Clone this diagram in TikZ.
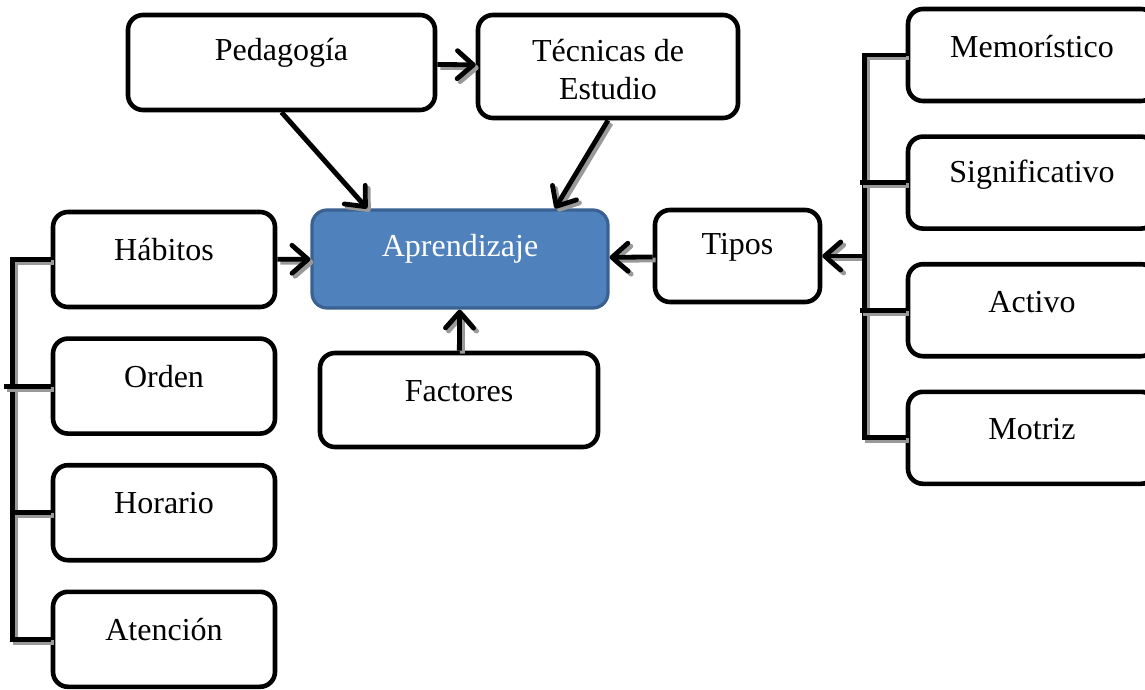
\documentclass[tikz,border=0pt]{standalone}
\usepackage{fontspec}
\setmainfont{Liberation Serif}
\usetikzlibrary{arrows.meta,positioning}
\definecolor{blueFill}{HTML}{4F81BD}
\definecolor{blueLine}{HTML}{3B6192}
\tikzset{
    box/.style={rectangle, rounded corners=7.5pt, draw, line width=2.3pt, fill=white, inner sep=0},
    mainbox/.style={box, fill=blueFill, draw=blueLine, line width=1.6pt},
    txt/.style={anchor=center, yshift=-20pt, align=center, font=\fontsize{16}{19}\selectfont},
    wire/.style={line width=2.4pt, preaction={draw=black!40, line width=2.4pt, transform canvas={shift={(1.5pt,-1.5pt)}}}},
    post/.style={wire, -{Straight Barb[length=8pt, width=14pt, round]}},
  }

\begin{document}
\begin{tikzpicture}[x=0.5pt, y=-0.5pt]
      \useasboundingbox (0,0) rectangle (1145,690);

      % centre
      \node (aprendizaje) [mainbox, minimum width=148pt, minimum height=49pt, label={[txt, text=white]north:Aprendizaje}] at (460,259) {};
      \node (pedagogia) [box, minimum width=153.5pt, minimum height=47.5pt, label={[txt]north:Pedagogía}] at (281.5,62.5) {};
      \node (tecnicas) [box, minimum width=130pt, minimum height=51.5pt, label={[txt, yshift=-8.5pt]north:Técnicas de\\Estudio}] at (608,66.5) {};
      \node (factores) [box, minimum width=139pt, minimum height=47pt, label={[txt]north:Factores}] at (459,400) {};
      \node (tipos) [box, minimum width=82.5pt, minimum height=46pt, label={[txt]north:Tipos}] at (737.5,256) {};

      % left column
      \begin{scope}[minimum width=111pt, minimum height=47.5pt, node distance=13.5pt]
        \node (habitos) [box, label={[txt]north:Hábitos}] at (164,259.5) {};
        \node (orden) [box, below=of habitos, label={[txt]north:Orden}] {};
        \node (horario) [box, below=of orden, label={[txt]north:Horario}] {};
        \node (atencion) [box, below=of horario, label={[txt]north:Atención}] {};
      \end{scope}

      % right column
      \begin{scope}[minimum width=124pt, minimum height=46pt, node distance=15.5pt]
        \node (memoristico) [box, label={[txt]north:Memorístico}] at (1032,55) {};
        \node (significativo) [box, below=of memoristico, label={[txt]north:Significativo}] {};
        \node (activo) [box, below=of significativo, label={[txt]north:Activo}] {};
        \node (motriz) [box, below=of activo, label={[txt]north:Motriz}] {};
      \end{scope}
      \coordinate (rbus) at ([xshift=-20.5pt]memoristico.west);

      \draw (pedagogia) edge [post] (tecnicas)
            (pedagogia.south) edge [post] ([xshift=-46.5pt]aprendizaje.north)
            (tecnicas.south) edge [post] ([xshift=47.5pt]aprendizaje.north)
            (habitos) edge [post] (aprendizaje)
            (tipos) edge [post] (aprendizaje)
            (factores) edge [post] (aprendizaje)
            (rbus |- tipos.east) edge [post] (tipos.east);

      % brackets
      \draw [wire] (habitos.west) -- ++(-19pt,0) |- (atencion.west);
      \draw [wire] (orden.west) -- ++(-23.5pt,0);
      \draw [wire] (horario.west) -- ++(-19pt,0);
      \draw [wire] (memoristico.west) -- (rbus) |- (motriz.west);
      \draw [wire] (significativo.west) -- ++(-23pt,0);
      \draw [wire] (activo.west) -- ++(-23pt,0);
  \end{tikzpicture}
\end{document}
